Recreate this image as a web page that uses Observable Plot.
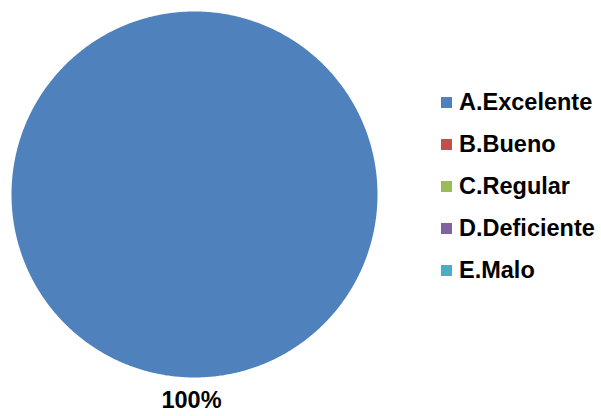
<!DOCTYPE html>
<html>
<head>
<meta charset="utf-8">
<script src="https://cdn.jsdelivr.net/npm/d3@7"></script>
<script src="https://cdn.jsdelivr.net/npm/@observablehq/plot@0.6"></script>
<style>
  html, body { margin: 0; padding: 0; background: #fff; }
  #wrap { position: relative; width: 601px; height: 416px; font-family: "Liberation Sans", Arial, sans-serif; }
  #wrap svg { position: absolute; left: 0; top: 0; }
  #legend { position: absolute; left: 441px; top: 81px; }
  .row { height: 42px; display: flex; align-items: center; font-weight: bold; font-size: 23.5px; color: #000; white-space: nowrap; }
  .sw { width: 11px; height: 11px; margin-right: 7px; flex: none; }
</style>
</head>
<body>
<div id="wrap"></div>
<script>
const categories = ["A.Excelente", "B.Bueno", "C.Regular", "D.Deficiente", "E.Malo"];
const values = [100, 0, 0, 0, 0];
const palette = ["#4F81BD", "#C0504D", "#9BBB59", "#8064A2", "#4BACC6"];

const total = d3.sum(values);
const arcs = d3.pie().sort(null).value((d, i) => values[i])(categories);

// Build slice outlines (angle clockwise from 12 o'clock, unit radius)
const outline = [];
arcs.forEach((a, i) => {
  if (a.endAngle - a.startAngle <= 0) return;
  outline.push({cat: categories[i], x: 0, y: 0});
  const n = Math.max(2, Math.ceil((a.endAngle - a.startAngle) / (Math.PI / 360)));
  for (let k = 0; k <= n; k++) {
    const t = a.startAngle + (a.endAngle - a.startAngle) * k / n;
    outline.push({cat: categories[i], x: Math.sin(t), y: Math.cos(t)});
  }
});

const labels = arcs.filter(a => a.value > 0).map((a, i) => {
  const m = (a.startAngle + a.endAngle) / 2;
  const r = 1.12;
  return {x: r * Math.sin(m), y: r * Math.cos(m), text: Math.round(100 * a.value / total) + "%"};
});

const chart = Plot.plot({
  width: 601,
  height: 416,
  marginLeft: 11,
  marginRight: 224,
  marginTop: 11,
  marginBottom: 39,
  x: {domain: [-1, 1], axis: null},
  y: {domain: [-1, 1], axis: null},
  color: {domain: categories, range: palette},
  style: {fontFamily: "Liberation Sans, Arial, sans-serif", background: "#fff", overflow: "visible"},
  marks: [
    Plot.line(outline, {x: "x", y: "y", z: "cat", fill: "cat", stroke: "none", curve: "linear-closed"}),
    Plot.text(labels, {x: "x", y: "y", text: "text", fontSize: 23.5, fontWeight: "bold", fill: "#000", dx: -3, dy: 1.5, clip: false})
  ]
});

const wrap = document.getElementById("wrap");
wrap.appendChild(chart);
const legend = document.createElement("div");
legend.id = "legend";
categories.forEach((c, i) => {
  const row = document.createElement("div");
  row.className = "row";
  const sw = document.createElement("span");
  sw.className = "sw";
  sw.style.background = palette[i];
  const t = document.createElement("span");
  t.textContent = c;
  row.appendChild(sw);
  row.appendChild(t);
  legend.appendChild(row);
});
wrap.appendChild(legend);
</script>
</body>
</html>
